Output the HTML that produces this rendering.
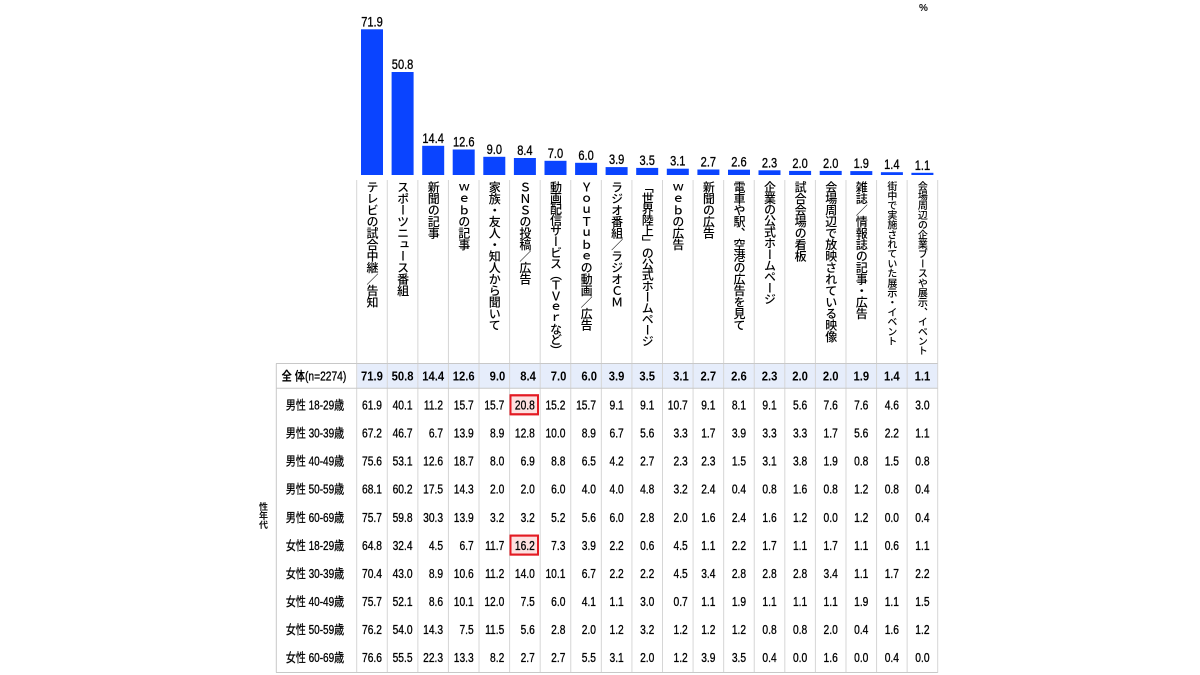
<!DOCTYPE html>
<html><head><meta charset="utf-8"><style>
html,body{margin:0;padding:0;background:#fff;}
#c{position:relative;width:1200px;height:675px;overflow:hidden;background:#fff;}
svg{position:absolute;left:0;top:0;}
.v{position:absolute;top:181px;width:14px;writing-mode:vertical-rl;font-family:"Noto Sans CJK JP","Liberation Sans",sans-serif;font-size:12px;line-height:14px;letter-spacing:-0.5px;color:#000;font-weight:500;white-space:nowrap;}
.s{position:absolute;left:258px;top:502px;width:11px;writing-mode:vertical-rl;font-family:"Noto Sans CJK JP",sans-serif;font-size:9px;line-height:11px;font-weight:bold;color:#111;}
</style></head><body><div id="c">
<svg width="1200" height="675" xmlns="http://www.w3.org/2000/svg" font-family="'Liberation Sans','Noto Sans CJK JP',sans-serif">
<rect x="0" y="0" width="1200" height="675" fill="#fff"/>
<g fill="#0a44ff">
<rect x="361" y="29.3" width="22" height="145.7"/>
<rect x="391.6" y="72" width="22" height="103"/>
<rect x="422.2" y="145.8" width="22" height="29.2"/>
<rect x="452.7" y="149.5" width="22" height="25.5"/>
<rect x="483.3" y="156.8" width="22" height="18.2"/>
<rect x="513.9" y="158" width="22" height="17"/>
<rect x="544.5" y="160.8" width="22" height="14.2"/>
<rect x="575.1" y="162.8" width="22" height="12.2"/>
<rect x="605.6" y="167.1" width="22" height="7.9"/>
<rect x="636.2" y="167.9" width="22" height="7.1"/>
<rect x="666.8" y="168.7" width="22" height="6.3"/>
<rect x="697.4" y="169.5" width="22" height="5.5"/>
<rect x="728" y="169.7" width="22" height="5.3"/>
<rect x="758.5" y="170.3" width="22" height="4.7"/>
<rect x="789.1" y="170.9" width="22" height="4.1"/>
<rect x="819.7" y="170.9" width="22" height="4.1"/>
<rect x="850.3" y="171.1" width="22" height="3.9"/>
<rect x="880.9" y="172.2" width="22" height="2.8"/>
<rect x="911.4" y="172.8" width="22" height="2.2"/>
</g>
<g transform="scale(0.82,1)" font-size="13.5" text-anchor="middle" fill="#000" stroke="#000" stroke-width="0.3">
<text x="453.65" y="26.3">71.9</text>
<text x="490.94" y="69">50.8</text>
<text x="528.23" y="142.8">14.4</text>
<text x="565.52" y="146.5">12.6</text>
<text x="602.82" y="153.8">9.0</text>
<text x="640.11" y="155">8.4</text>
<text x="677.40" y="157.8">7.0</text>
<text x="714.70" y="159.8">6.0</text>
<text x="751.99" y="164.1">3.9</text>
<text x="789.28" y="164.9">3.5</text>
<text x="826.57" y="165.7">3.1</text>
<text x="863.87" y="166.5">2.7</text>
<text x="901.16" y="166.7">2.6</text>
<text x="938.45" y="167.3">2.3</text>
<text x="975.74" y="167.9">2.0</text>
<text x="1013.04" y="167.9">2.0</text>
<text x="1050.33" y="168.1">1.9</text>
<text x="1087.62" y="169.2">1.4</text>
<text x="1124.91" y="169.8">1.1</text>
</g>
<text x="923.5" y="11" font-size="10" font-weight="bold" text-anchor="middle" fill="#111">%</text>
<rect x="357.2" y="363.5" width="580.5" height="24.5" fill="#e6edfb"/>
<rect x="510.5" y="395.3" width="27.5" height="19" fill="#fde0e0" stroke="#e31b23" stroke-width="2"/>
<rect x="510.5" y="535.6" width="27.5" height="19" fill="#fde0e0" stroke="#e31b23" stroke-width="2"/>
<g stroke="#d6d6d6" stroke-width="1">
<line x1="356.7" y1="180" x2="356.7" y2="672.7"/>
<line x1="387.28" y1="180" x2="387.28" y2="672.7"/>
<line x1="417.86" y1="180" x2="417.86" y2="672.7"/>
<line x1="448.44" y1="180" x2="448.44" y2="672.7"/>
<line x1="479.02" y1="180" x2="479.02" y2="672.7"/>
<line x1="509.6" y1="180" x2="509.6" y2="672.7"/>
<line x1="540.18" y1="180" x2="540.18" y2="672.7"/>
<line x1="570.76" y1="180" x2="570.76" y2="672.7"/>
<line x1="601.34" y1="180" x2="601.34" y2="672.7"/>
<line x1="631.92" y1="180" x2="631.92" y2="672.7"/>
<line x1="662.5" y1="180" x2="662.5" y2="672.7"/>
<line x1="693.08" y1="180" x2="693.08" y2="672.7"/>
<line x1="723.66" y1="180" x2="723.66" y2="672.7"/>
<line x1="754.24" y1="180" x2="754.24" y2="672.7"/>
<line x1="784.82" y1="180" x2="784.82" y2="672.7"/>
<line x1="815.4" y1="180" x2="815.4" y2="672.7"/>
<line x1="845.98" y1="180" x2="845.98" y2="672.7"/>
<line x1="876.56" y1="180" x2="876.56" y2="672.7"/>
<line x1="907.14" y1="180" x2="907.14" y2="672.7"/>
<line x1="937.7" y1="180" x2="937.7" y2="672.7"/>
</g>
<g stroke="#c8c8c8" stroke-width="1">
<line x1="276" y1="363.5" x2="937.7" y2="363.5"/>
<line x1="276" y1="388.3" x2="937.7" y2="388.3"/>
<line x1="276" y1="672.5" x2="937.7" y2="672.5"/>
<line x1="276.3" y1="363.5" x2="276.3" y2="672.5"/>
</g>
<rect x="510.5" y="395.3" width="27.5" height="19" fill="none" stroke="#e31b23" stroke-width="2"/>
<rect x="510.5" y="535.6" width="27.5" height="19" fill="none" stroke="#e31b23" stroke-width="2"/>
<g transform="scale(0.82,1)" font-size="12.5" text-anchor="middle" fill="#000">
<text x="382.9" y="380.5" font-weight="bold">全 体<tspan font-weight="normal" stroke="#000" stroke-width="0.3">(n=2274)</tspan></text>
</g>
<g transform="scale(0.8,1)" font-size="12.5" text-anchor="middle" fill="#000" stroke="#000" stroke-width="0.3">
<text x="393.75" y="409.5">男性 18-29歳</text>
<text x="393.75" y="437.6">男性 30-39歳</text>
<text x="393.75" y="465.7">男性 40-49歳</text>
<text x="393.75" y="493.7">男性 50-59歳</text>
<text x="393.75" y="521.8">男性 60-69歳</text>
<text x="393.75" y="549.9">女性 18-29歳</text>
<text x="393.75" y="578.0">女性 30-39歳</text>
<text x="393.75" y="606.1">女性 40-49歳</text>
<text x="393.75" y="634.1">女性 50-59歳</text>
<text x="393.75" y="662.2">女性 60-69歳</text>
</g>
<g transform="scale(0.9,1)" font-size="12.5" font-weight="bold" fill="#000">
<text y="380.5" text-anchor="end"><tspan x="425.48">71.9</tspan><tspan x="459.46">50.8</tspan><tspan x="493.44">14.4</tspan><tspan x="527.42">12.6</tspan><tspan x="561.39">9.0</tspan><tspan x="595.37">8.4</tspan><tspan x="629.35">7.0</tspan><tspan x="663.33">6.0</tspan><tspan x="765.26">3.1</tspan></text>
<text y="380.5" text-anchor="middle"><tspan x="685.14">3.9</tspan><tspan x="719.12">3.5</tspan><tspan x="787.08">2.7</tspan><tspan x="821.06">2.6</tspan><tspan x="855.03">2.3</tspan><tspan x="889.01">2.0</tspan><tspan x="922.99">2.0</tspan><tspan x="956.97">1.9</tspan><tspan x="990.94">1.4</tspan><tspan x="1024.92">1.1</tspan></text>
</g>
<g transform="scale(0.82,1)" font-size="12.5" fill="#000" stroke="#000" stroke-width="0.3">
<text y="409.5" text-anchor="end"><tspan x="465.81">61.9</tspan><tspan x="503.10">40.1</tspan><tspan x="540.39">11.2</tspan><tspan x="577.68">15.7</tspan><tspan x="614.98">15.7</tspan><tspan x="652.27">20.8</tspan><tspan x="689.56">15.2</tspan><tspan x="726.86">15.7</tspan><tspan x="838.73">10.7</tspan></text>
<text y="409.5" text-anchor="middle"><tspan x="751.99">9.1</tspan><tspan x="789.28">9.1</tspan><tspan x="863.87">9.1</tspan><tspan x="901.16">8.1</tspan><tspan x="938.45">9.1</tspan><tspan x="975.74">5.6</tspan><tspan x="1013.04">7.6</tspan><tspan x="1050.33">7.6</tspan><tspan x="1087.62">4.6</tspan><tspan x="1124.91">3.0</tspan></text>

<text y="437.6" text-anchor="end"><tspan x="465.81">67.2</tspan><tspan x="503.10">46.7</tspan><tspan x="540.39">6.7</tspan><tspan x="577.68">13.9</tspan><tspan x="614.98">8.9</tspan><tspan x="652.27">12.8</tspan><tspan x="689.56">10.0</tspan><tspan x="726.86">8.9</tspan><tspan x="838.73">3.3</tspan></text>
<text y="437.6" text-anchor="middle"><tspan x="751.99">6.7</tspan><tspan x="789.28">5.6</tspan><tspan x="863.87">1.7</tspan><tspan x="901.16">3.9</tspan><tspan x="938.45">3.3</tspan><tspan x="975.74">3.3</tspan><tspan x="1013.04">1.7</tspan><tspan x="1050.33">5.6</tspan><tspan x="1087.62">2.2</tspan><tspan x="1124.91">1.1</tspan></text>

<text y="465.7" text-anchor="end"><tspan x="465.81">75.6</tspan><tspan x="503.10">53.1</tspan><tspan x="540.39">12.6</tspan><tspan x="577.68">18.7</tspan><tspan x="614.98">8.0</tspan><tspan x="652.27">6.9</tspan><tspan x="689.56">8.8</tspan><tspan x="726.86">6.5</tspan><tspan x="838.73">2.3</tspan></text>
<text y="465.7" text-anchor="middle"><tspan x="751.99">4.2</tspan><tspan x="789.28">2.7</tspan><tspan x="863.87">2.3</tspan><tspan x="901.16">1.5</tspan><tspan x="938.45">3.1</tspan><tspan x="975.74">3.8</tspan><tspan x="1013.04">1.9</tspan><tspan x="1050.33">0.8</tspan><tspan x="1087.62">1.5</tspan><tspan x="1124.91">0.8</tspan></text>

<text y="493.7" text-anchor="end"><tspan x="465.81">68.1</tspan><tspan x="503.10">60.2</tspan><tspan x="540.39">17.5</tspan><tspan x="577.68">14.3</tspan><tspan x="614.98">2.0</tspan><tspan x="652.27">2.0</tspan><tspan x="689.56">6.0</tspan><tspan x="726.86">4.0</tspan><tspan x="838.73">3.2</tspan></text>
<text y="493.7" text-anchor="middle"><tspan x="751.99">4.0</tspan><tspan x="789.28">4.8</tspan><tspan x="863.87">2.4</tspan><tspan x="901.16">0.4</tspan><tspan x="938.45">0.8</tspan><tspan x="975.74">1.6</tspan><tspan x="1013.04">0.8</tspan><tspan x="1050.33">1.2</tspan><tspan x="1087.62">0.8</tspan><tspan x="1124.91">0.4</tspan></text>

<text y="521.8" text-anchor="end"><tspan x="465.81">75.7</tspan><tspan x="503.10">59.8</tspan><tspan x="540.39">30.3</tspan><tspan x="577.68">13.9</tspan><tspan x="614.98">3.2</tspan><tspan x="652.27">3.2</tspan><tspan x="689.56">5.2</tspan><tspan x="726.86">5.6</tspan><tspan x="838.73">2.0</tspan></text>
<text y="521.8" text-anchor="middle"><tspan x="751.99">6.0</tspan><tspan x="789.28">2.8</tspan><tspan x="863.87">1.6</tspan><tspan x="901.16">2.4</tspan><tspan x="938.45">1.6</tspan><tspan x="975.74">1.2</tspan><tspan x="1013.04">0.0</tspan><tspan x="1050.33">1.2</tspan><tspan x="1087.62">0.0</tspan><tspan x="1124.91">0.4</tspan></text>

<text y="549.9" text-anchor="end"><tspan x="465.81">64.8</tspan><tspan x="503.10">32.4</tspan><tspan x="540.39">4.5</tspan><tspan x="577.68">6.7</tspan><tspan x="614.98">11.7</tspan><tspan x="652.27">16.2</tspan><tspan x="689.56">7.3</tspan><tspan x="726.86">3.9</tspan><tspan x="838.73">4.5</tspan></text>
<text y="549.9" text-anchor="middle"><tspan x="751.99">2.2</tspan><tspan x="789.28">0.6</tspan><tspan x="863.87">1.1</tspan><tspan x="901.16">2.2</tspan><tspan x="938.45">1.7</tspan><tspan x="975.74">1.1</tspan><tspan x="1013.04">1.7</tspan><tspan x="1050.33">1.1</tspan><tspan x="1087.62">0.6</tspan><tspan x="1124.91">1.1</tspan></text>

<text y="578.0" text-anchor="end"><tspan x="465.81">70.4</tspan><tspan x="503.10">43.0</tspan><tspan x="540.39">8.9</tspan><tspan x="577.68">10.6</tspan><tspan x="614.98">11.2</tspan><tspan x="652.27">14.0</tspan><tspan x="689.56">10.1</tspan><tspan x="726.86">6.7</tspan><tspan x="838.73">4.5</tspan></text>
<text y="578.0" text-anchor="middle"><tspan x="751.99">2.2</tspan><tspan x="789.28">2.2</tspan><tspan x="863.87">3.4</tspan><tspan x="901.16">2.8</tspan><tspan x="938.45">2.8</tspan><tspan x="975.74">2.8</tspan><tspan x="1013.04">3.4</tspan><tspan x="1050.33">1.1</tspan><tspan x="1087.62">1.7</tspan><tspan x="1124.91">2.2</tspan></text>

<text y="606.1" text-anchor="end"><tspan x="465.81">75.7</tspan><tspan x="503.10">52.1</tspan><tspan x="540.39">8.6</tspan><tspan x="577.68">10.1</tspan><tspan x="614.98">12.0</tspan><tspan x="652.27">7.5</tspan><tspan x="689.56">6.0</tspan><tspan x="726.86">4.1</tspan><tspan x="838.73">0.7</tspan></text>
<text y="606.1" text-anchor="middle"><tspan x="751.99">1.1</tspan><tspan x="789.28">3.0</tspan><tspan x="863.87">1.1</tspan><tspan x="901.16">1.9</tspan><tspan x="938.45">1.1</tspan><tspan x="975.74">1.1</tspan><tspan x="1013.04">1.1</tspan><tspan x="1050.33">1.9</tspan><tspan x="1087.62">1.1</tspan><tspan x="1124.91">1.5</tspan></text>

<text y="634.1" text-anchor="end"><tspan x="465.81">76.2</tspan><tspan x="503.10">54.0</tspan><tspan x="540.39">14.3</tspan><tspan x="577.68">7.5</tspan><tspan x="614.98">11.5</tspan><tspan x="652.27">5.6</tspan><tspan x="689.56">2.8</tspan><tspan x="726.86">2.0</tspan><tspan x="838.73">1.2</tspan></text>
<text y="634.1" text-anchor="middle"><tspan x="751.99">1.2</tspan><tspan x="789.28">3.2</tspan><tspan x="863.87">1.2</tspan><tspan x="901.16">1.2</tspan><tspan x="938.45">0.8</tspan><tspan x="975.74">0.8</tspan><tspan x="1013.04">2.0</tspan><tspan x="1050.33">0.4</tspan><tspan x="1087.62">1.6</tspan><tspan x="1124.91">1.2</tspan></text>

<text y="662.2" text-anchor="end"><tspan x="465.81">76.6</tspan><tspan x="503.10">55.5</tspan><tspan x="540.39">22.3</tspan><tspan x="577.68">13.3</tspan><tspan x="614.98">8.2</tspan><tspan x="652.27">2.7</tspan><tspan x="689.56">2.7</tspan><tspan x="726.86">5.5</tspan><tspan x="838.73">1.2</tspan></text>
<text y="662.2" text-anchor="middle"><tspan x="751.99">3.1</tspan><tspan x="789.28">2.0</tspan><tspan x="863.87">3.9</tspan><tspan x="901.16">3.5</tspan><tspan x="938.45">0.4</tspan><tspan x="975.74">0.0</tspan><tspan x="1013.04">1.6</tspan><tspan x="1050.33">0.0</tspan><tspan x="1087.62">0.4</tspan><tspan x="1124.91">0.0</tspan></text>
</g>
</svg>
<div class="v" style="left:365px">テレビの試合中継／告知</div>
<div class="v" style="left:395.6px">スポーツニュース番組</div>
<div class="v" style="left:426.2px">新聞の記事</div>
<div class="v" style="left:456.7px">ｗｅｂの記事</div>
<div class="v" style="left:487.3px">家族・友人・知人から聞いて</div>
<div class="v" style="left:517.9px">ＳＮＳの投稿／広告</div>
<div class="v" style="left:548.5px;letter-spacing:-1.1px">動画配信サービス（ＴＶｅｒなど）</div>
<div class="v" style="left:579.1px">ＹｏｕＴｕｂｅの動画／広告</div>
<div class="v" style="left:609.6px">ラジオ番組／ラジオＣＭ</div>
<div class="v" style="left:640.2px;letter-spacing:-1px">「世界陸上」の公式ホームページ</div>
<div class="v" style="left:670.8px">ｗｅｂの広告</div>
<div class="v" style="left:701.4px">新聞の広告</div>
<div class="v" style="left:732px">電車や駅、空港の広告を見て</div>
<div class="v" style="left:762.5px;letter-spacing:-0.8px">企業の公式ホームページ</div>
<div class="v" style="left:793.1px">試合会場の看板</div>
<div class="v" style="left:823.7px">会場周辺で放映されている映像</div>
<div class="v" style="left:854.3px">雑誌／情報誌の記事・広告</div>
<div class="v" style="left:884.9px;font-size:10px;letter-spacing:-0.3px">街中で実施されていた展示・イベント</div>
<div class="v" style="left:915.4px;font-size:10px;letter-spacing:-0.3px">会場周辺の企業ブースや展示、イベント</div>
<div class="s">性年代</div>
</div></body></html>
